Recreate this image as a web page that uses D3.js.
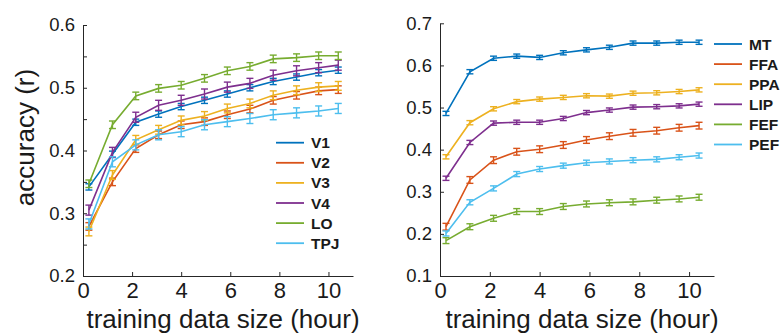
<!DOCTYPE html>
<html>
<head>
<meta charset="utf-8">
<script src="https://cdn.jsdelivr.net/npm/d3@7"></script>
<style>
  body { margin: 0; background: #fff; }
  svg { display: block; font-family: "Liberation Sans", Arial, sans-serif; }
  .axis path, .axis line { stroke: #262626; stroke-width: 1; }
  .axis text { fill: #1a1a1a; }
</style>
</head>
<body>
<svg></svg>
<script>
// training data size (hours) for every point
var hours = [0.24, 1.2, 2.15, 3.08, 4.0, 4.95, 5.88, 6.8, 7.75, 8.7, 9.6, 10.4];

// left panel
var leftNames = ["V1", "V2", "V3", "V4", "LO", "TPJ"];
var v1  = [0.342, 0.394, 0.445, 0.458, 0.470, 0.480, 0.490, 0.500, 0.510, 0.517, 0.524, 0.528];
var v2  = [0.279, 0.350, 0.403, 0.425, 0.441, 0.446, 0.457, 0.466, 0.480, 0.488, 0.495, 0.497];
var v3  = [0.271, 0.361, 0.417, 0.433, 0.448, 0.455, 0.467, 0.475, 0.488, 0.496, 0.501, 0.503];
var v4  = [0.305, 0.397, 0.453, 0.472, 0.480, 0.490, 0.501, 0.507, 0.520, 0.527, 0.532, 0.536];
var lo  = [0.347, 0.441, 0.487, 0.499, 0.504, 0.515, 0.527, 0.534, 0.546, 0.548, 0.551, 0.551];
var tpj = [0.283, 0.382, 0.409, 0.425, 0.430, 0.441, 0.446, 0.451, 0.457, 0.460, 0.463, 0.467];
var leftErr = [0.005, 0.006, 0.007, 0.008, 0.006, 0.008];
var leftTicks = [0.2, 0.25, 0.3, 0.35, 0.4, 0.45, 0.5, 0.55, 0.6];

// right panel
var rightNames = ["MT", "FFA", "PPA", "LIP", "FEF", "PEF"];
var mt  = [0.486, 0.585, 0.617, 0.622, 0.619, 0.630, 0.637, 0.643, 0.653, 0.653, 0.655, 0.655];
var ffa = [0.217, 0.328, 0.375, 0.395, 0.401, 0.411, 0.423, 0.432, 0.440, 0.445, 0.452, 0.457];
var ppa = [0.383, 0.464, 0.497, 0.514, 0.520, 0.524, 0.528, 0.527, 0.534, 0.535, 0.538, 0.542];
var lip = [0.332, 0.417, 0.463, 0.465, 0.465, 0.474, 0.488, 0.494, 0.501, 0.502, 0.504, 0.508];
var fef = [0.184, 0.217, 0.237, 0.253, 0.253, 0.265, 0.271, 0.274, 0.276, 0.280, 0.283, 0.287];
var pef = [0.201, 0.275, 0.308, 0.342, 0.354, 0.362, 0.369, 0.372, 0.375, 0.377, 0.382, 0.386];
var rightErr = [0.005, 0.008, 0.005, 0.005, 0.007, 0.006];
var rightTicks = [0.1, 0.2, 0.3, 0.4, 0.5, 0.6, 0.7];

var xTicks = [0, 2, 4, 6, 8, 10];
var colors = ["#0072BD", "#D95319", "#EDB120", "#7E2F8E", "#77AC30", "#4DBEEE"];

var svg = d3.select("svg")
            .attr("width", 780)
            .attr("height", 333);

var drawPanel = function(p){
  var xScale = d3.scaleLinear()
                .domain([0, 11])
                .range([p.left, p.right]);

  var yScale = d3.scaleLinear()
                .domain(p.yDomain)
                .range([p.bottom, p.top]);

  var yAxis = d3.axisLeft(yScale)
                .tickValues(p.yTicks)
                .tickSizeInner(-4)
                .tickSizeOuter(0)
                .tickPadding(8)
                .tickFormat(function(d){
                  var r = Math.round(d * 10) / 10;
                  return Math.abs(r - d) < 1e-6 ? d3.format(".1f")(d) : "";
                });

  var xAxis = d3.axisBottom(xScale)
                .tickValues(xTicks)
                .tickSizeInner(-4)
                .tickSizeOuter(0)
                .tickPadding(6)
                .tickFormat(d3.format("d"));

  svg.append("g")
     .classed("axis", true)
     .attr("transform", "translate(" + p.left + ",0)")
     .call(yAxis)
     .call(function(g){ g.selectAll("text").style("font-size", "18.5px"); });

  svg.append("g")
     .classed("axis", true)
     .attr("transform", "translate(0," + p.bottom + ")")
     .call(xAxis)
     .call(function(g){ g.selectAll("text").style("font-size", "22px"); });

  var line = d3.line()
               .x(function(d){ return xScale(d.x); })
               .y(function(d){ return yScale(d.y); });

  var series = p.values.map(function(vals, i){
    return {
      name: p.names[i],
      color: colors[i],
      err: p.err[i],
      points: vals.map(function(v, j){ return {x: hours[j], y: v}; })
    };
  });

  var groups = svg.append("g")
                  .selectAll("g")
                  .data(series)
                  .enter()
                  .append("g");

  groups.append("path")
        .attr("d", function(s){ return line(s.points); })
        .attr("fill", "none")
        .attr("stroke", function(s){ return s.color; })
        .attr("stroke-width", 1.6);

  var bars = groups.selectAll("g.err")
                   .data(function(s){
                     return s.points.map(function(pt){
                       return {x: pt.x, y: pt.y, e: s.err, color: s.color};
                     });
                   })
                   .enter()
                   .append("g")
                   .classed("err", true)
                   .attr("stroke", function(d){ return d.color; })
                   .attr("stroke-width", 1.4);

  bars.append("line")
      .attr("x1", function(d){ return xScale(d.x); })
      .attr("x2", function(d){ return xScale(d.x); })
      .attr("y1", function(d){ return yScale(d.y - d.e); })
      .attr("y2", function(d){ return yScale(d.y + d.e); });

  bars.append("line")
      .attr("x1", function(d){ return xScale(d.x) - 3.5; })
      .attr("x2", function(d){ return xScale(d.x) + 3.5; })
      .attr("y1", function(d){ return yScale(d.y - d.e); })
      .attr("y2", function(d){ return yScale(d.y - d.e); });

  bars.append("line")
      .attr("x1", function(d){ return xScale(d.x) - 3.5; })
      .attr("x2", function(d){ return xScale(d.x) + 3.5; })
      .attr("y1", function(d){ return yScale(d.y + d.e); })
      .attr("y2", function(d){ return yScale(d.y + d.e); });

  // legend
  var legend = svg.append("g")
                  .attr("transform", "translate(" + p.legendX + "," + p.legendY + ")");

  var legendLines = legend.selectAll("g")
                          .data(series)
                          .enter()
                          .append("g")
                          .attr("transform", function(d, i){ return "translate(0," + (i * 20.1) + ")"; });

  legendLines.append("line")
             .attr("x1", 0)
             .attr("x2", 28)
             .attr("y1", 0)
             .attr("y2", 0)
             .attr("stroke", function(d){ return d.color; })
             .attr("stroke-width", 1.8);

  legendLines.append("text")
             .attr("x", 35)
             .attr("y", 0)
             .attr("dy", "0.36em")
             .style("font-size", "15.5px")
             .style("font-weight", "bold")
             .style("fill", "#1a1a1a")
             .text(function(d){ return d.name; });

  svg.append("text")
     .attr("x", (p.left + p.right) / 2 + 5)
     .attr("y", 328)
     .attr("text-anchor", "middle")
     .style("font-size", "26px")
     .style("fill", "#1a1a1a")
     .text("training data size (hour)");
};

drawPanel({
  left: 83, right: 353, top: 25, bottom: 276,
  yDomain: [0.2, 0.6], yTicks: leftTicks,
  names: leftNames, values: [v1, v2, v3, v4, lo, tpj], err: leftErr,
  legendX: 276, legendY: 142.7
});

drawPanel({
  left: 440, right: 714, top: 23.3, bottom: 276,
  yDomain: [0.1, 0.7], yTicks: rightTicks,
  names: rightNames, values: [mt, ffa, ppa, lip, fef, pef], err: rightErr,
  legendX: 714, legendY: 44
});

svg.append("text")
   .attr("transform", "translate(34,137.5) rotate(-90)")
   .attr("text-anchor", "middle")
   .style("font-size", "26px")
   .style("fill", "#1a1a1a")
   .text("accuracy (r)");
</script>
</body>
</html>
